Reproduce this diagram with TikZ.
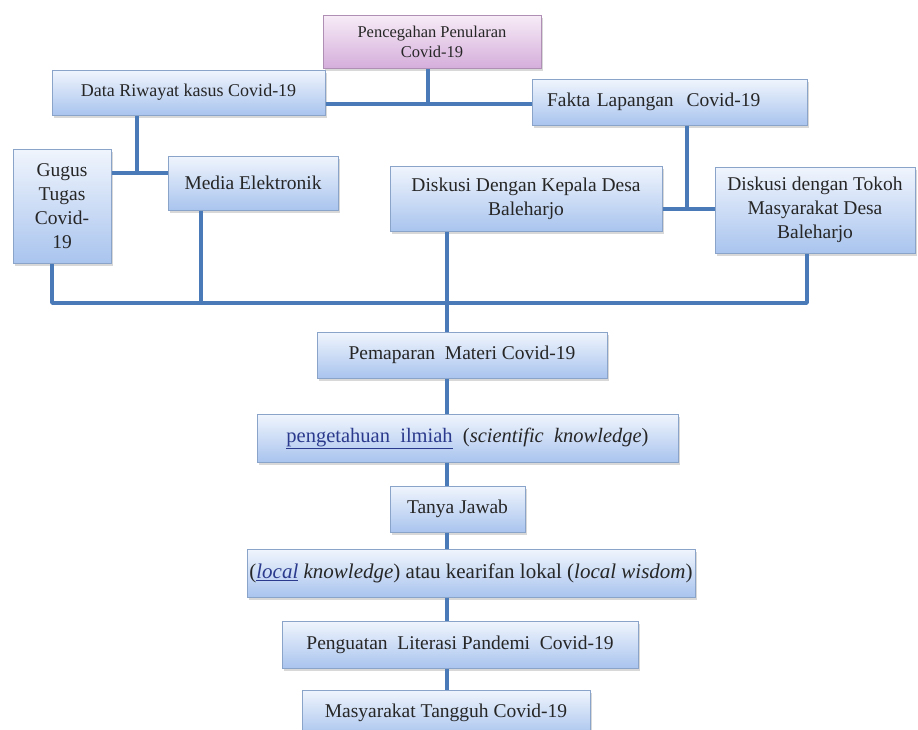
\documentclass[tikz,border=0pt]{standalone}
\usepackage{fontspec}
\setmainfont{Liberation Serif}
\usetikzlibrary{shadows}
\definecolor{lineblue}{HTML}{4A7AB8}
\definecolor{boxtop}{HTML}{F0F5FD}
\definecolor{boxbot}{HTML}{A9C4EE}
\definecolor{boxedge}{HTML}{8AA3C8}
\definecolor{purtop}{HTML}{F7ECF7}
\definecolor{purbot}{HTML}{D5AEDB}
\definecolor{puredge}{HTML}{B08FB5}
\definecolor{linkblue}{HTML}{2B3A8C}
\begin{document}
\begin{tikzpicture}[x=1pt,y=-1pt,
  box/.style={draw=boxedge, line width=1pt, top color=boxtop, bottom color=boxbot,
    drop shadow={shadow xshift=2pt, shadow yshift=-2.5pt, fill=black!30},
    inner sep=0pt, align=center, font=\fontsize{19.5}{24}\selectfont, text=black!85},
  pbox/.style={box, draw=puredge, top color=purtop, bottom color=purbot},
  conn/.style={draw=lineblue, line width=3.5pt}]
\useasboundingbox (0,0) rectangle (918,729);

% nodes
\node[pbox, minimum width=218pt, minimum height=53pt, font=\fontsize{16.5}{20}\selectfont] (top) at (432,41.5) {Pencegahan Penularan\\Covid-19};
\node[box, minimum width=273pt, minimum height=45pt, font=\fontsize{18}{24}\selectfont] (data) at (188.5,92.5) {Data Riwayat kasus Covid-19};
\node[box, minimum width=275pt, minimum height=46pt, align=left, text width=245pt, inner xsep=15pt] (fakta) at (669.5,102) {Fakta Lapangan\ \ Covid-19};
\node[box, minimum width=98pt, minimum height=114pt] (gugus) at (62,206) {Gugus\\Tugas\\Covid-\\19};
\node[box, minimum width=170pt, minimum height=54pt] (media) at (253,183) {Media Elektronik};
\node[box, minimum width=272pt, minimum height=65pt] (kepala) at (526,198.5) {Diskusi Dengan Kepala Desa\\Baleharjo};
\node[box, minimum width=200pt, minimum height=86pt] (tokoh) at (815,210) {Diskusi dengan Tokoh\\Masyarakat Desa\\Baleharjo};
\node[box, minimum width=290pt, minimum height=46pt] (pem) at (462,355) {Pemaparan\ \ Materi Covid-19};
\node[box, minimum width=421pt, minimum height=48pt, font=\fontsize{20.5}{24}\selectfont] (ilmiah) at (467.5,438) {\textcolor{linkblue}{\underline{pengetahuan\ \ ilmiah}}\ \ (\textit{scientific\ \ knowledge})};
\node[box, minimum width=135pt, minimum height=46pt] (tanya) at (457.5,509) {Tanya Jawab};
\node[box, minimum width=448pt, minimum height=48pt, font=\fontsize{21}{24}\selectfont] (local) at (471,573) {(\textcolor{linkblue}{\underline{\textit{local}}} \textit{knowledge}) atau kearifan lokal (\textit{local wisdom})};
\node[box, minimum width=356pt, minimum height=47pt] (peng) at (460,644.5) {Penguatan\ \ Literasi Pandemi\ \ Covid-19};
\node[box, minimum width=288pt, minimum height=46pt] (mas) at (446,713) {Masyarakat Tangguh Covid-19};

% junction coordinates
\coordinate (j1) at (428,104);
\coordinate (j2) at (137,173);
\coordinate (j3) at (687,209);
\coordinate (b1) at (52,303);
\coordinate (b2) at (807,303);
\coordinate (m1) at (201,303);
\coordinate (sp) at (447,303);

% connectors
\draw[conn] (top.south -| j1) -- (j1);
\draw[conn] (data.east |- j1) -- (fakta.west |- j1);
\draw[conn] (data.south -| j2) -- (j2);
\draw[conn] (gugus.east |- j2) -- (media.west |- j2);
\draw[conn] (fakta.south -| j3) -- (j3);
\draw[conn] (kepala.east |- j3) -- (tokoh.west |- j3);
\draw[conn, line join=round] (gugus.south -| b1) -- (b1) -- (b2) -- (tokoh.south -| b2);
\draw[conn] (media.south -| m1) -- (m1);
\draw[conn] (kepala.south -| sp) -- (pem.north -| sp);
\draw[conn] (pem.south -| sp) -- (ilmiah.north -| sp);
\draw[conn] (ilmiah.south -| sp) -- (tanya.north -| sp);
\draw[conn] (tanya.south -| sp) -- (local.north -| sp);
\draw[conn] (local.south -| sp) -- (peng.north -| sp);
\draw[conn] (peng.south -| sp) -- (mas.north -| sp);
\end{tikzpicture}
\end{document}
